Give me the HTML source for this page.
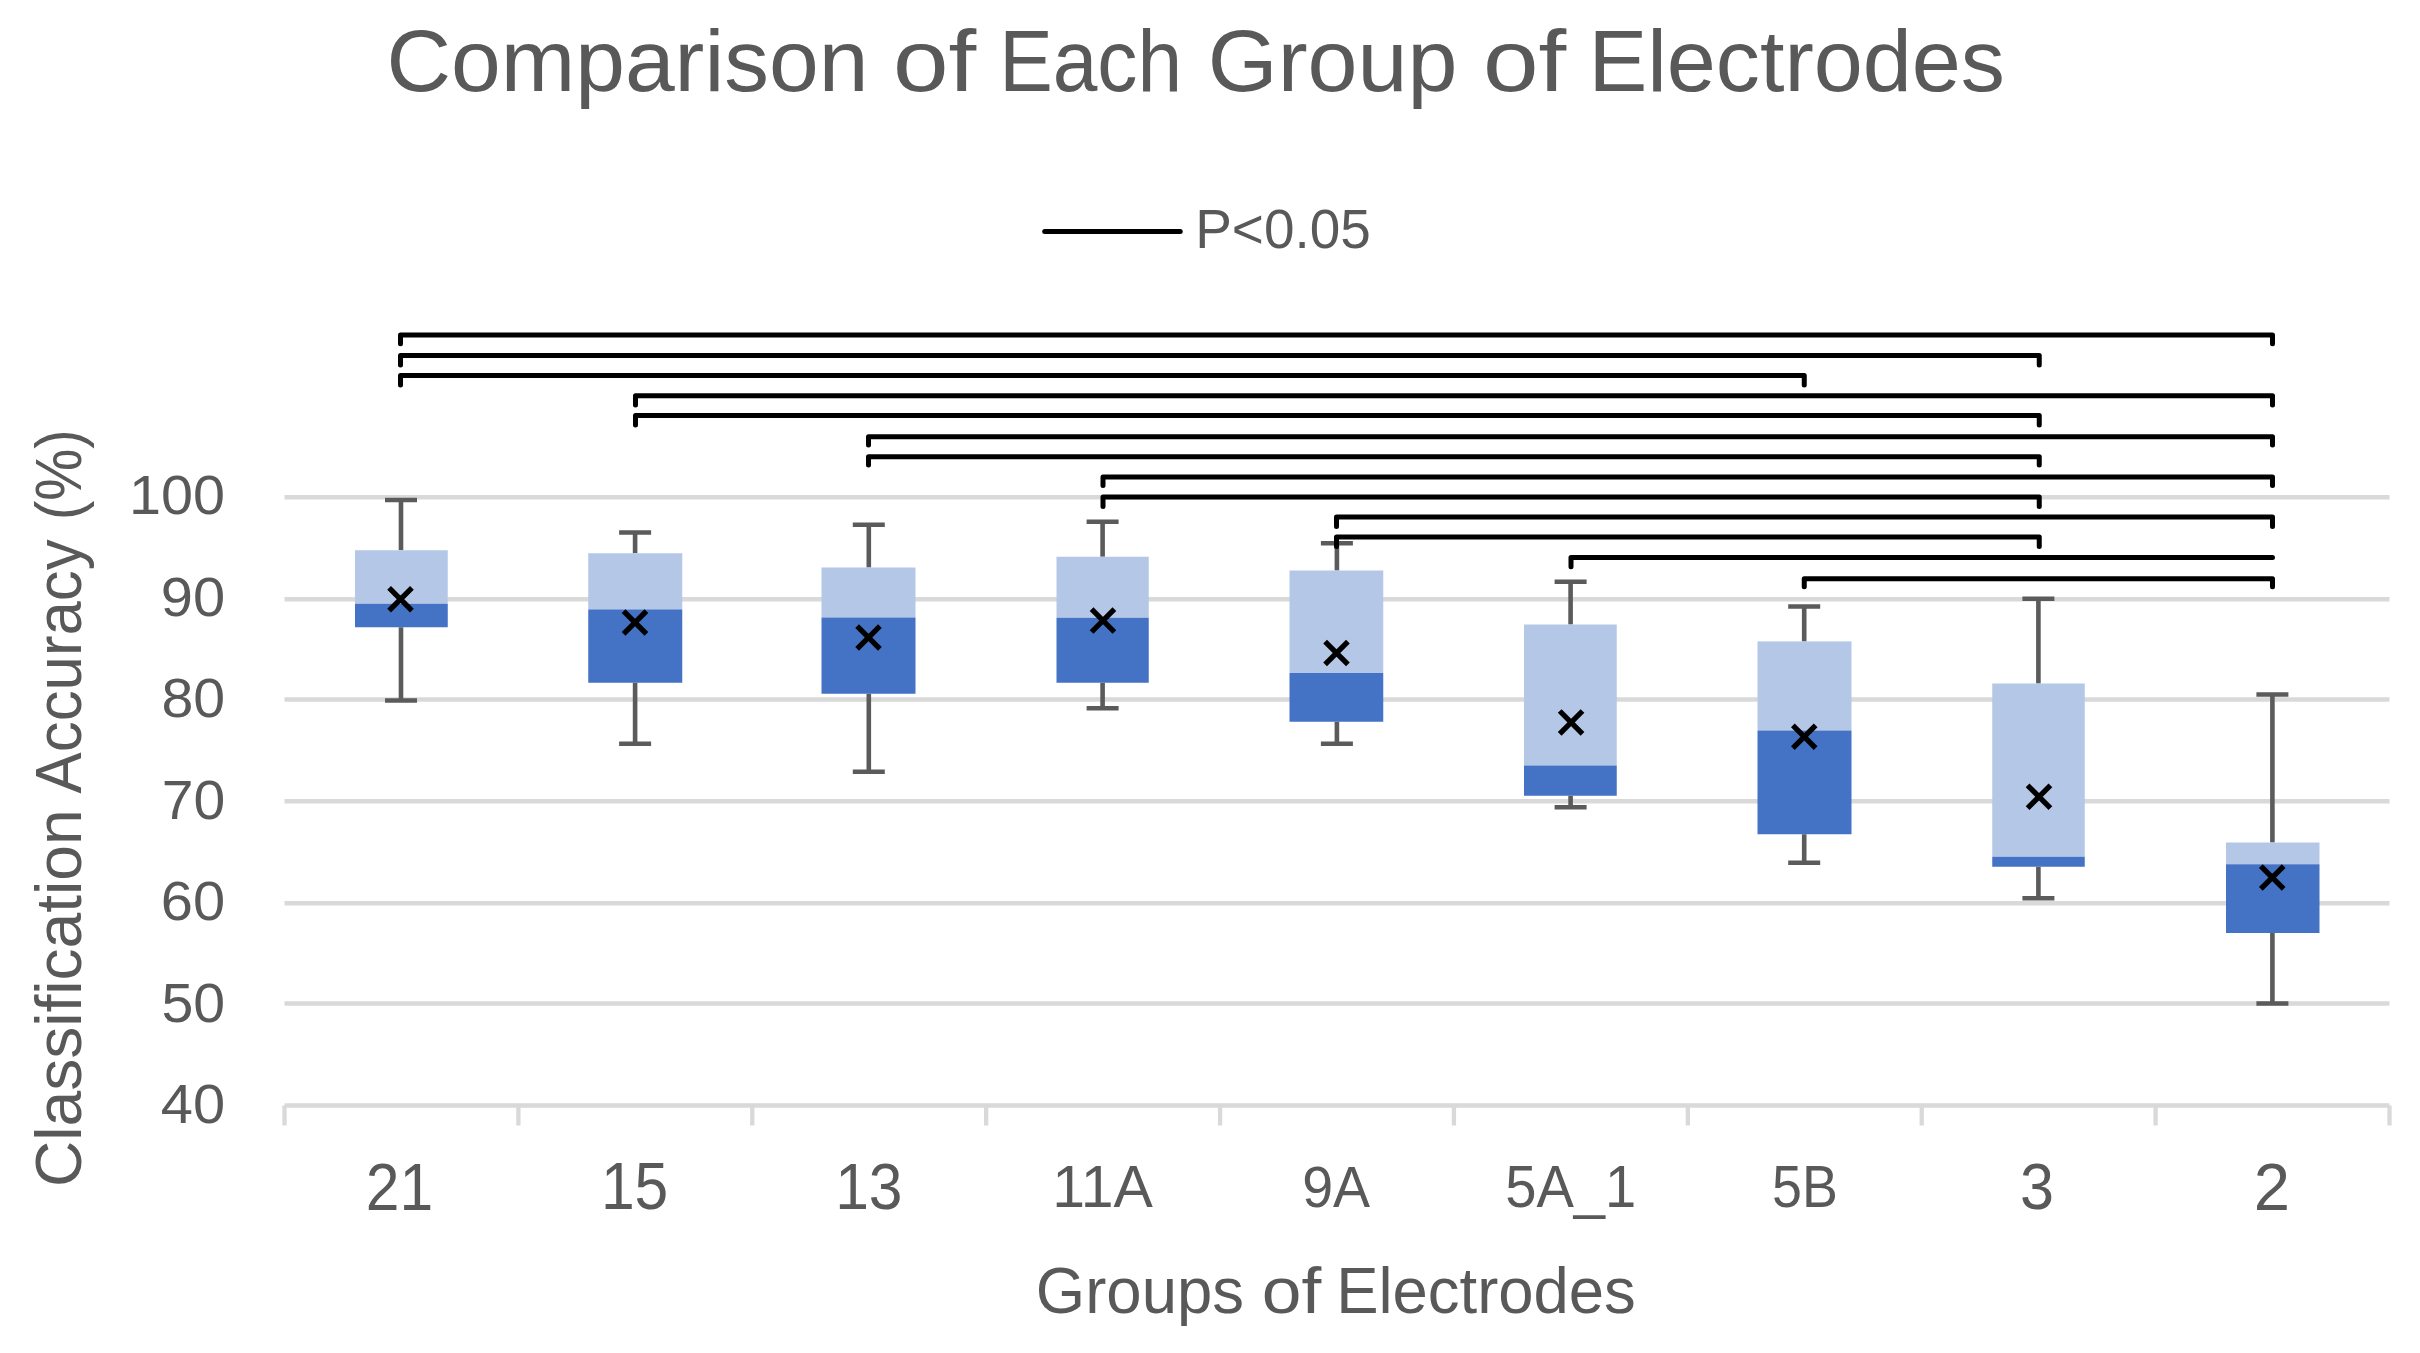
<!DOCTYPE html>
<html lang="en"><head><meta charset="utf-8"><title>Comparison of Each Group of Electrodes</title>
<style>html,body{margin:0;padding:0;background:#fff}body{width:2420px;height:1353px;overflow:hidden}svg{display:block}text{font-family:"Liberation Sans", Arial, sans-serif;fill:#595959}</style></head><body>
<svg width="2420" height="1353" viewBox="0 0 2420 1353">
<rect width="2420" height="1353" fill="#fff"/>
<g stroke="#d9d9d9" stroke-width="4.3" fill="none">
<line x1="284.5" y1="497.25" x2="2389.5" y2="497.25"/>
<line x1="284.5" y1="599.25" x2="2389.5" y2="599.25"/>
<line x1="284.5" y1="699.5" x2="2389.5" y2="699.5"/>
<line x1="284.5" y1="801.25" x2="2389.5" y2="801.25"/>
<line x1="284.5" y1="903.25" x2="2389.5" y2="903.25"/>
<line x1="284.5" y1="1003.5" x2="2389.5" y2="1003.5"/>
<line x1="284.5" y1="1105.5" x2="2389.5" y2="1105.5"/>
<line x1="284.50" y1="1105.5" x2="284.50" y2="1125.5"/>
<line x1="518.39" y1="1105.5" x2="518.39" y2="1125.5"/>
<line x1="752.28" y1="1105.5" x2="752.28" y2="1125.5"/>
<line x1="986.17" y1="1105.5" x2="986.17" y2="1125.5"/>
<line x1="1220.06" y1="1105.5" x2="1220.06" y2="1125.5"/>
<line x1="1453.94" y1="1105.5" x2="1453.94" y2="1125.5"/>
<line x1="1687.83" y1="1105.5" x2="1687.83" y2="1125.5"/>
<line x1="1921.72" y1="1105.5" x2="1921.72" y2="1125.5"/>
<line x1="2155.61" y1="1105.5" x2="2155.61" y2="1125.5"/>
<line x1="2389.50" y1="1105.5" x2="2389.50" y2="1125.5"/>
</g>
<g>
<path d="M401.0 500V550.25M401.0 627.25V700.5M385.0 500H417.0M385.0 700.5H417.0" stroke="#5b5b5b" stroke-width="4.6" fill="none"/>
<rect x="355" y="550.25" width="92.75" height="53.50" fill="#b4c7e7"/>
<rect x="355" y="603.75" width="92.75" height="23.50" fill="#4472c4"/>
<path d="M635.1 532.5V553.25M635.1 682.75V743.75M619.1 532.5H651.1M619.1 743.75H651.1" stroke="#5b5b5b" stroke-width="4.6" fill="none"/>
<rect x="588.25" y="553.25" width="94.00" height="56.15" fill="#b4c7e7"/>
<rect x="588.25" y="609.4" width="94.00" height="73.35" fill="#4472c4"/>
<path d="M868.8 524.75V567.5M868.8 693.75V771.75M852.8 524.75H884.8M852.8 771.75H884.8" stroke="#5b5b5b" stroke-width="4.6" fill="none"/>
<rect x="821.5" y="567.5" width="94.00" height="50.00" fill="#b4c7e7"/>
<rect x="821.5" y="617.5" width="94.00" height="76.25" fill="#4472c4"/>
<path d="M1102.6 521.75V556.75M1102.6 682.75V708.25M1086.6 521.75H1118.6M1086.6 708.25H1118.6" stroke="#5b5b5b" stroke-width="4.6" fill="none"/>
<rect x="1056.5" y="556.75" width="92.25" height="61.00" fill="#b4c7e7"/>
<rect x="1056.5" y="617.75" width="92.25" height="65.00" fill="#4472c4"/>
<path d="M1336.9 543.25V570.5M1336.9 721.75V743.75M1320.9 543.25H1352.9M1320.9 743.75H1352.9" stroke="#5b5b5b" stroke-width="4.6" fill="none"/>
<rect x="1289.5" y="570.5" width="93.75" height="102.50" fill="#b4c7e7"/>
<rect x="1289.5" y="673" width="93.75" height="48.75" fill="#4472c4"/>
<path d="M1570.6 581.75V624.5M1570.6 795.75V807.25M1554.6 581.75H1586.6M1554.6 807.25H1586.6" stroke="#5b5b5b" stroke-width="4.6" fill="none"/>
<rect x="1524" y="624.5" width="92.75" height="141.00" fill="#b4c7e7"/>
<rect x="1524" y="765.5" width="92.75" height="30.25" fill="#4472c4"/>
<path d="M1804.2 606.5V641.4M1804.2 834.25V862.75M1788.2 606.5H1820.2M1788.2 862.75H1820.2" stroke="#5b5b5b" stroke-width="4.6" fill="none"/>
<rect x="1757.5" y="641.4" width="94.00" height="89.10" fill="#b4c7e7"/>
<rect x="1757.5" y="730.5" width="94.00" height="103.75" fill="#4472c4"/>
<path d="M2038.4 598.75V683.5M2038.4 866.75V898.25M2022.4 598.75H2054.4M2022.4 898.25H2054.4" stroke="#5b5b5b" stroke-width="4.6" fill="none"/>
<rect x="1992.25" y="683.5" width="92.50" height="173.25" fill="#b4c7e7"/>
<rect x="1992.25" y="856.75" width="92.50" height="10.00" fill="#4472c4"/>
<path d="M2272.4 694.5V842.5M2272.4 933V1003.5M2256.4 694.5H2288.4M2256.4 1003.5H2288.4" stroke="#5b5b5b" stroke-width="4.6" fill="none"/>
<rect x="2226" y="842.5" width="93.50" height="21.75" fill="#b4c7e7"/>
<rect x="2226" y="864.25" width="93.50" height="68.75" fill="#4472c4"/>
</g>
<g stroke="#000" stroke-width="5" fill="none" stroke-linecap="round" stroke-linejoin="round">
<path d="M400.5 343.75V335H2272.5V343.75"/>
<path d="M400.5 365.00V355.5H2039.25V365.00"/>
<path d="M400.5 385.00V375.5H1804.25V385.00"/>
<path d="M635.5 405.00V395.75H2272.5V405.00"/>
<path d="M635.5 425.00V415.5H2039.25V425.00"/>
<path d="M868.5 445.00V436.75H2272.5V445.00"/>
<path d="M868.5 465.00V456.75H2039.25V465.00"/>
<path d="M1103 485.50V477H2272.5V485.50"/>
<path d="M1103 506.60V497H2039.25V506.60"/>
<path d="M1336.5 526.60V517H2272.5V526.60"/>
<path d="M1336.5 546.50V537H2039.25V546.50"/>
<path d="M1571 566.75V557.5H2272.5"/>
<path d="M1804.25 586.75V578.75H2272.5V586.75"/>
<path d="M1044.7 231.6H1180.2"/>
</g>
<g stroke="#000" stroke-width="5.3" fill="none">
<path d="M389.10 587.85L411.90 610.65M389.10 610.65L411.90 587.85"/>
<path d="M623.60 611.10L646.40 633.90M623.60 633.90L646.40 611.10"/>
<path d="M857.10 626.10L879.90 648.90M857.10 648.90L879.90 626.10"/>
<path d="M1091.60 609.20L1114.40 632.00M1091.60 632.00L1114.40 609.20"/>
<path d="M1325.10 641.60L1347.90 664.40M1325.10 664.40L1347.90 641.60"/>
<path d="M1559.70 711.00L1582.50 733.80M1559.70 733.80L1582.50 711.00"/>
<path d="M1792.85 725.35L1815.65 748.15M1792.85 748.15L1815.65 725.35"/>
<path d="M2027.60 785.35L2050.40 808.15M2027.60 808.15L2050.40 785.35"/>
<path d="M2260.85 866.10L2283.65 888.90M2260.85 888.90L2283.65 866.10"/>
</g>
<g id="title">
<text transform="translate(386.43 91.30) scale(1.0214 1)" font-size="87.54">Comparison</text>
<text transform="translate(892.99 91.30) scale(1.1400 1)" font-size="87.54">of</text>
<text transform="translate(999.18 91.30) scale(0.9171 1)" font-size="87.54">Each</text>
<text transform="translate(1207.81 91.30) scale(1.0264 1)" font-size="87.54">Group</text>
<text transform="translate(1482.94 91.30) scale(1.1400 1)" font-size="87.54">of</text>
<text transform="translate(1588.45 91.30) scale(1.0071 1)" font-size="87.54">Electrodes</text>
</g>
<text transform="translate(1195.20 248.34) scale(0.9778 1)" font-size="56.20">P&lt;0.05</text>
<g id="ylabels">
<text transform="translate(128.89 514.44) scale(1.0350 1)" font-size="55.63">100</text>
<text transform="translate(160.86 615.89) scale(1.0397 1)" font-size="55.63">90</text>
<text transform="translate(161.46 717.19) scale(1.0296 1)" font-size="55.63">80</text>
<text transform="translate(161.64 818.69) scale(1.0265 1)" font-size="55.63">70</text>
<text transform="translate(160.86 920.09) scale(1.0397 1)" font-size="55.63">60</text>
<text transform="translate(161.46 1021.59) scale(1.0296 1)" font-size="55.63">50</text>
<text transform="translate(160.84 1123.09) scale(1.0400 1)" font-size="55.63">40</text>
</g>
<g id="xlabels">
<text transform="translate(365.72 1209.60) scale(0.9110 1)" font-size="66.57">21</text>
<text transform="translate(600.90 1208.93) scale(0.9104 1)" font-size="66.57">15</text>
<text transform="translate(835.15 1208.94) scale(0.9234 1)" font-size="65.63">13</text>
<text transform="translate(2020.05 1208.94) scale(0.9320 1)" font-size="65.63">3</text>
<text transform="translate(2253.74 1209.60) scale(0.9797 1)" font-size="66.57">2</text>
<text transform="translate(1052.28 1207.20) scale(0.9933 1)" font-size="59.35">11A</text>
<text transform="translate(1302.22 1206.62) scale(0.9632 1)" font-size="57.68">9A</text>
<text transform="translate(1772.10 1206.62) scale(0.9190 1)" font-size="58.50">5B</text>
<text transform="translate(1505.26 1206.90) scale(0.9524 1)" font-size="58.91">5A_1</text>
</g>
<g id="xtitle">
<text transform="translate(1035.82 1312.70) scale(0.9760 1)" font-size="65.07">Groups</text>
<text transform="translate(1261.74 1312.70) scale(1.0971 1)" font-size="65.07">of</text>
<text transform="translate(1336.23 1312.70) scale(0.9744 1)" font-size="65.07">Electrodes</text>
</g>
<g id="ytitle" transform="translate(81.2 1183.75) rotate(-90)">
<text transform="translate(-3.20 0) scale(0.9762 1)" font-size="65.65">Classification</text>
<text transform="translate(390.35 0) scale(0.9410 1)" font-size="65.65">Accuracy</text>
<text transform="translate(663.43 0) scale(0.8926 1)" font-size="65.65">(%)</text>
</g>
</svg></body></html>
